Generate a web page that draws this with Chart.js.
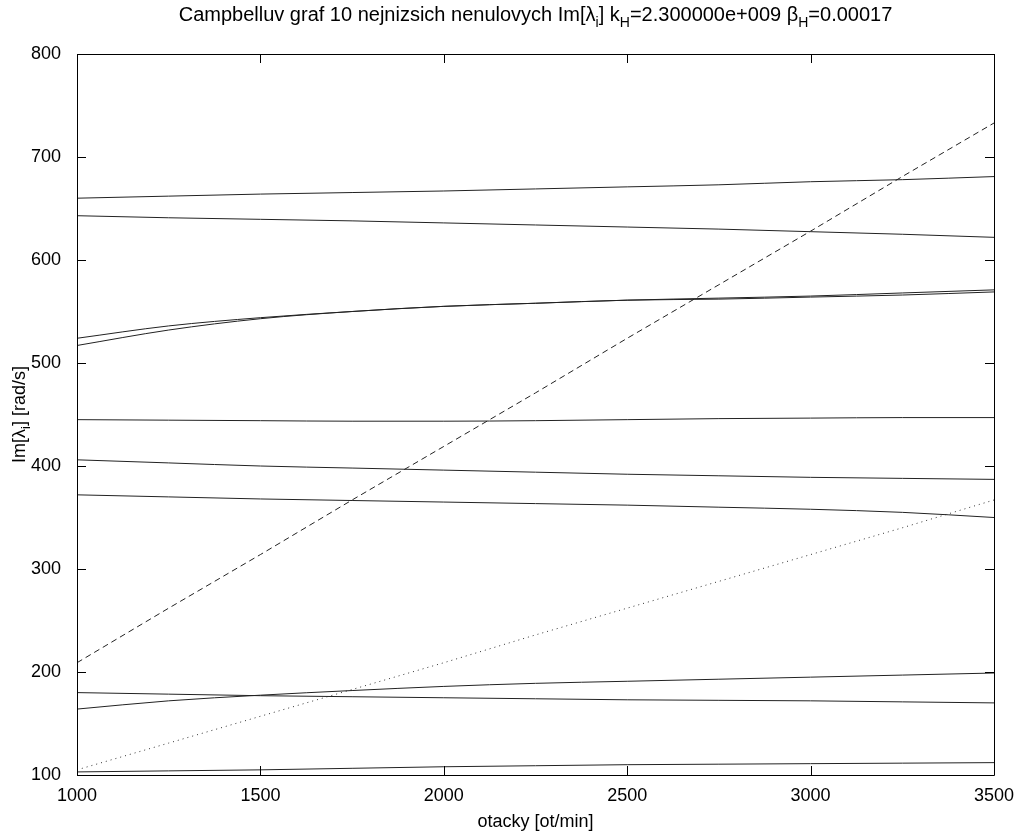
<!DOCTYPE html>
<html>
<head>
<meta charset="utf-8">
<script src="https://cdn.jsdelivr.net/npm/chart.js@4.4.1/dist/chart.umd.min.js"></script>
<style>
  html, body { margin: 0; padding: 0; background: #fff; }
  #wrap { width: 1020px; height: 834px; position: relative; }
</style>
</head>
<body>
<div id="wrap"><canvas id="c" width="1020" height="834"></canvas></div>
<script>
// otacky [ot/min]
const rpm = [1000, 1250, 1500, 1750, 2000, 2250, 2500, 2750, 3000, 3250, 3500];

// Im[lambda_i] [rad/s]
const mode1 = [103, 104, 105, 106.5, 108, 109, 110, 110.5, 111, 111.5, 112];
const mode2 = [164, 172, 177.5, 182, 186, 189, 191, 193, 195, 197, 199];
const mode3 = [180, 178.5, 177, 176, 175, 174, 173, 172.5, 172, 171, 170];
const mode4 = [372, 370, 368, 366.5, 365, 363.5, 362, 360, 358, 355, 350];
const mode5 = [406, 403, 400, 398, 396, 394, 392, 390.5, 389, 388, 387];
const mode6 = [445, 444.5, 444, 443.5, 443.5, 444, 445, 446, 446.5, 447, 447];
const mode7 = [517, 532, 543, 550, 555, 558, 561, 562, 564, 566, 569];
const mode8 = [524, 536, 544, 550, 555, 558, 561, 563, 565, 568, 571];
const mode9 = [643, 641, 639.5, 638, 636, 634, 632, 630, 627.5, 625, 622];
const mode10 = [660, 662, 664, 665.5, 667, 669, 671, 673, 676, 678, 681];

// excitation lines
const twoX = [209, 262, 314, 367, 419, 471, 524, 576, 628, 681, 733];
const oneX = [105, 131, 157, 183, 209, 236, 262, 288, 314, 340, 367];

const xTicks = [1000, 1500, 2000, 2500, 3000, 3500];
const yTicks = [100, 200, 300, 400, 500, 600, 700, 800];

const FONT = '"Liberation Sans", Arial, sans-serif';

function pts(ys) {
  return rpm.map((x, i) => ({ x, y: ys[i] }));
}

function solid(ys) {
  return { data: pts(ys), borderColor: '#222', borderWidth: 1, pointRadius: 0, cubicInterpolationMode: 'monotone' };
}

// draws a run of text pieces, some as subscripts
function drawRich(ctx, parts, size, cx, y) {
  const big = size + 'px ' + FONT;
  const small = Math.round(size * 0.7) + 'px ' + FONT;
  let w = 0;
  parts.forEach(p => {
    ctx.font = p.sub ? small : big;
    w += ctx.measureText(p.t).width;
  });
  let x = cx - w / 2;
  ctx.textAlign = 'left';
  ctx.textBaseline = 'alphabetic';
  parts.forEach(p => {
    ctx.font = p.sub ? small : big;
    ctx.fillText(p.t, x, p.sub ? y + size * 0.3 : y);
    x += ctx.measureText(p.t).width;
  });
}

const titleParts = [
  { t: 'Campbelluv graf 10 nejnizsich nenulovych Im[\u03bb' }, { t: 'i', sub: true },
  { t: '] k' }, { t: 'H', sub: true },
  { t: '=2.300000e+009 \u03b2' }, { t: 'H', sub: true },
  { t: '=0.00017' }
];
const yLabelParts = [{ t: 'Im[\u03bb' }, { t: 'i', sub: true }, { t: '] [rad/s]' }];

const framePlugin = {
  id: 'frame',
  afterDraw(chart) {
    const { ctx, chartArea: a, scales } = chart;
    const L = 9;
    ctx.save();
    ctx.strokeStyle = '#000';
    ctx.lineWidth = 1;
    ctx.beginPath();
    ctx.rect(Math.round(a.left) + 0.5, Math.round(a.top) + 0.5,
             Math.round(a.right - a.left), Math.round(a.bottom - a.top));
    xTicks.forEach(v => {
      const px = Math.round(scales.x.getPixelForValue(v)) + 0.5;
      ctx.moveTo(px, a.bottom); ctx.lineTo(px, a.bottom - L);
      ctx.moveTo(px, a.top); ctx.lineTo(px, a.top + L);
    });
    yTicks.forEach(v => {
      const py = Math.round(scales.y.getPixelForValue(v)) + 0.5;
      ctx.moveTo(a.left, py); ctx.lineTo(a.left + L, py);
      ctx.moveTo(a.right, py); ctx.lineTo(a.right - L, py);
    });
    ctx.stroke();

    ctx.fillStyle = '#000';
    drawRich(ctx, titleParts, 20, (a.left + a.right) / 2, 21);

    ctx.font = '18px ' + FONT;
    ctx.textAlign = 'center';
    ctx.textBaseline = 'alphabetic';
    ctx.fillText('otacky [ot/min]', (a.left + a.right) / 2, 827);

    ctx.translate(25, (a.top + a.bottom) / 2);
    ctx.rotate(-Math.PI / 2);
    drawRich(ctx, yLabelParts, 18, 0, 0);
    ctx.restore();
  }
};

new Chart(document.getElementById('c'), {
  type: 'line',
  data: {
    datasets: [
      solid(mode1), solid(mode2), solid(mode3), solid(mode4), solid(mode5),
      solid(mode6), solid(mode7), solid(mode8), solid(mode9), solid(mode10),
      { data: pts(twoX), borderColor: '#222', borderWidth: 1, borderDash: [6, 4], pointRadius: 0 },
      { data: pts(oneX), borderColor: '#333', borderWidth: 1, borderDash: [1, 4], pointRadius: 0 }
    ]
  },
  options: {
    responsive: false,
    animation: false,
    layout: { padding: { left: 0, top: 54, right: 26, bottom: 0 } },
    plugins: { legend: { display: false }, tooltip: { enabled: false }, title: { display: false } },
    scales: {
      x: {
        type: 'linear', min: 1000, max: 3500,
        afterBuildTicks: s => { s.ticks = xTicks.map(v => ({ value: v })); },
        afterFit: s => { s.height = 59; },
        grid: { display: false },
        border: { display: false },
        ticks: {
          color: '#000', font: { family: FONT, size: 18 }, padding: 2, maxRotation: 0,
          callback: v => String(v)
        }
      },
      y: {
        type: 'linear', min: 100, max: 800,
        afterBuildTicks: s => { s.ticks = yTicks.map(v => ({ value: v })); },
        afterFit: s => { s.width = 77; },
        grid: { display: false },
        border: { display: false },
        ticks: {
          color: '#000', font: { family: FONT, size: 18 }, padding: 8,
          callback: v => String(v)
        }
      }
    }
  },
  plugins: [framePlugin]
});
</script>
</body>
</html>
